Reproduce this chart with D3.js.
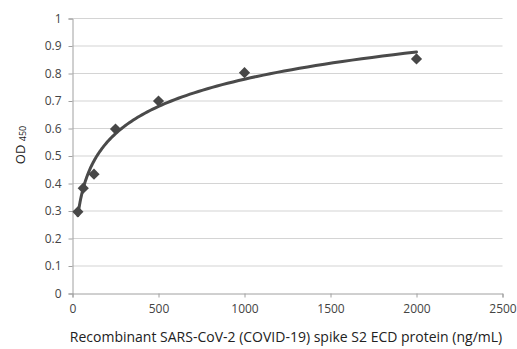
<!DOCTYPE html>
<html>
<head>
<meta charset="utf-8">
<script src="https://cdn.jsdelivr.net/npm/d3@7"></script>
<style>
  body { margin: 0; background: #fff; }
  svg { display: block; font-family: "Open Sans", sans-serif; }
</style>
</head>
<body>
<svg id="chart" width="517" height="349"></svg>
<script>
'use strict';

// concentrations (ng/mL) and measured OD450
var conc = [31.25, 62.5, 125, 250, 500, 1000, 2000];
var od = [0.297, 0.383, 0.434, 0.598, 0.700, 0.803, 0.853];

var xTicks = [0, 500, 1000, 1500, 2000, 2500];
var yTicks = [0, 0.1, 0.2, 0.3, 0.4, 0.5, 0.6, 0.7, 0.8, 0.9, 1];

var svg = d3.select('#chart');
var x = d3.scaleLinear().domain([0, 2500]).range([72.5, 502.5]);
var y = d3.scaleLinear().domain([0, 1]).range([293.5, 18.5]);

// gridlines
svg.append('g')
  .selectAll('line')
  .data(yTicks.slice(1))
  .join('line')
  .attr('x1', x(0)).attr('x2', x(2500))
  .attr('y1', d => y(d)).attr('y2', d => y(d))
  .attr('stroke', '#d4d4d4')
  .attr('stroke-width', 1.2);

// y axis
var yAxis = svg.append('g')
  .attr('transform', 'translate(' + x(0) + ',0)')
  .call(d3.axisLeft(y).tickValues(yTicks).tickSize(4).tickPadding(7)
    .tickFormat(d3.format('~g')));

// x axis
var xAxis = svg.append('g')
  .attr('transform', 'translate(0,' + y(0) + ')')
  .call(d3.axisBottom(x).tickValues(xTicks).tickSize(4).tickPadding(7)
    .tickFormat(d3.format('d')));

[yAxis, xAxis].forEach(function(g) {
  g.select('.domain').attr('stroke', '#a0a0a0');
  g.selectAll('.tick line').attr('stroke', '#a0a0a0');
  g.selectAll('.tick text')
    .attr('fill', '#444')
    .style('font-size', '12px')
    .style('font-family', '"Open Sans", sans-serif');
});

// logarithmic trendline: least-squares fit of od against ln(conc)
var lx = conc.map(Math.log);
var mx = d3.mean(lx), my = d3.mean(od);
var sxy = d3.sum(lx, (v, i) => (v - mx) * (od[i] - my));
var sxx = d3.sum(lx, v => (v - mx) * (v - mx));
var slope = sxy / sxx, icpt = my - slope * mx;

var fitX = d3.range(0, 121).map(i => conc[0] * Math.pow(2000 / conc[0], i / 120));

svg.append('path')
  .datum(fitX)
  .attr('fill', 'none')
  .attr('stroke', '#4a4a4a')
  .attr('stroke-width', 3)
  .attr('stroke-linecap', 'round')
  .attr('d', d3.line().x(d => x(d)).y(d => y(slope * Math.log(d) + icpt)));

// diamond markers
svg.append('g')
  .selectAll('path')
  .data(conc)
  .join('path')
  .attr('transform', (d, i) => 'translate(' + x(d) + ',' + y(od[i]) + ')')
  .attr('d', d3.symbol().type(d3.symbolDiamond2).size(80))
  .attr('fill', '#474747');

// axis titles
svg.append('text')
  .attr('x', 286).attr('y', 342)
  .attr('text-anchor', 'middle')
  .attr('fill', '#222')
  .style('font-size', '14px')
  .text('Recombinant SARS-CoV-2 (COVID-19) spike S2 ECD protein (ng/mL)');

var yt = svg.append('text')
  .attr('transform', 'translate(25,145) rotate(-90)')
  .attr('text-anchor', 'middle')
  .attr('fill', '#222')
  .style('font-size', '13px');
yt.append('tspan').text('OD ');
yt.append('tspan').attr('dy', 1).style('font-size', '9px').text('450');
</script>
</body>
</html>
